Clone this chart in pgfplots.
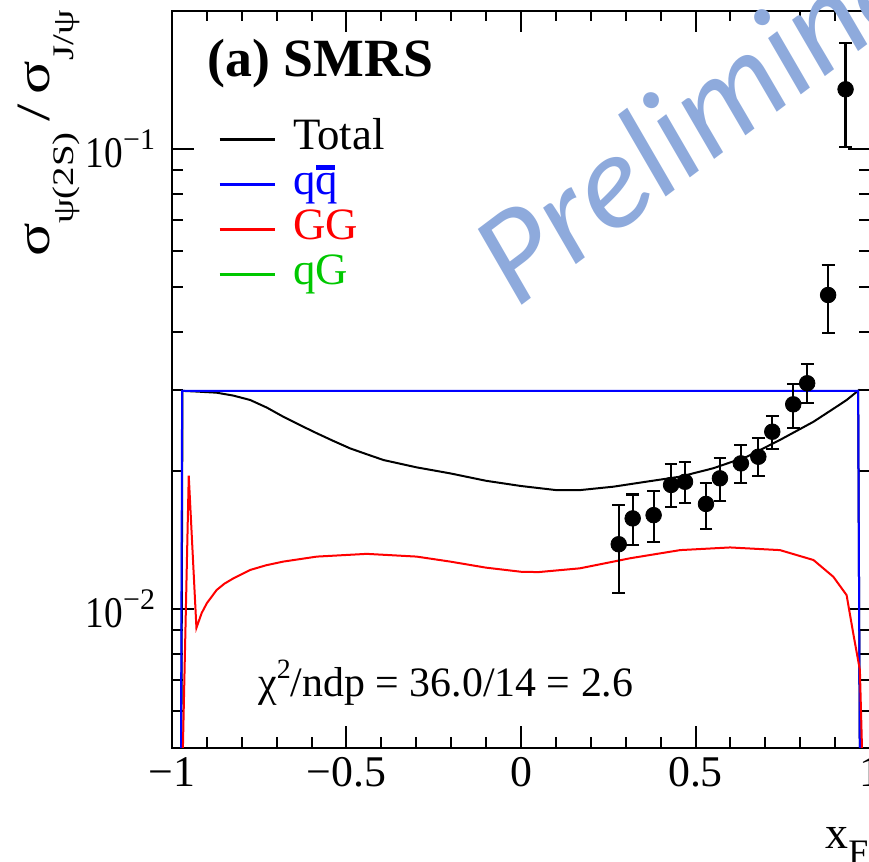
\documentclass[border=0pt]{standalone}
\usepackage{fontspec}
\setmainfont{Liberation Serif}
\newfontfamily\carlito{Carlito}
\usepackage{pgfplots}
\pgfplotsset{compat=1.18}
\definecolor{rootgreen}{RGB}{0,200,0}
\definecolor{prelim}{RGB}{142,170,220}
\begin{document}
\begin{tikzpicture}
\useasboundingbox (-86bp,-57.25bp) rectangle (348.5bp,373.75bp);
\begin{axis}[
  at={(0,0)}, anchor=south west,
  scale only axis, width=349bp, height=368.5bp,
  xmin=-1, xmax=1, ymin=0.005, ymax=0.2,
  ymode=log,
  unbounded coords=jump,
  axis line style={line width=1bp},
  tick style={draw=black, line width=1bp},
  tick align=inside, xtick pos=both, ytick pos=both,
  major tick length=11bp, minor tick length=5.5bp,
  xtick={-1,-0.5,0,0.5,1},
  xticklabels={−1,−0.5,0,0.5,1},
  minor x tick num=4,
  ytick={0.01,0.1},
  yticklabels={\scalebox{0.85}[1]{10}\raisebox{9bp}{\fontsize{15}{15}\selectfont −2},\scalebox{0.85}[1]{10}\raisebox{9bp}{\fontsize{15}{15}\selectfont −1}},
  minor ytick={0.006,0.007,0.008,0.009,0.02,0.03,0.04,0.05,0.06,0.07,0.08,0.09},
  ticklabel style={font=\fontsize{22}{22}\selectfont},
  xticklabel style={yshift=-1.5bp},
  yticklabel style={xshift=-5bp},
  legend style={at={(0.066,0.8555)}, anchor=north west, draw=none, fill=none,
    inner sep=0pt, outer sep=0pt, row sep=0pt, column sep=8.5bp,
    font=\fontsize{22.5}{22.5}\selectfont,
    nodes={inner sep=0pt, text height=16.4bp, text depth=6.1bp}},
  legend cell align=left,
  legend image code/.code={\draw[#1, line width=1.5bp] (0bp,0bp) -- (27.5bp,0bp);},
]
\addplot[black, line width=1bp] coordinates {
(-0.976,0.001) (-0.970,0.0298) (-0.93,0.0297) (-0.872,0.02953) (-0.824,0.0291)
(-0.776,0.02847) (-0.728,0.0274) (-0.681,0.02618) (-0.633,0.0251) (-0.585,0.0241)
(-0.538,0.0232) (-0.490,0.02235) (-0.442,0.0217) (-0.394,0.02108) (-0.299,0.02032)
(-0.203,0.01972) (-0.1,0.0190) (0,0.01851) (0.1,0.01814) (0.17,0.01814)
(0.265,0.01845) (0.36,0.01892) (0.456,0.0194) (0.551,0.02023) (0.647,0.02143)
(0.742,0.02331) (0.838,0.02553) (0.9,0.0274) (0.933,0.02847) (0.966,0.02982) (0.975,0.001)
};
\addlegendentry{Total}
\addplot[blue, line width=1bp] coordinates {
(-0.977,0.001) (-0.971,0.0298) (0.966,0.0298) (0.975,0.001)
};
\addlegendentry{\textcolor{blue}{q\rlap{\hspace{0.5bp}\raisebox{12.5bp}{\rule{9.5bp}{2.5bp}}}q}}
\addplot[red, line width=1bp] coordinates {
(-0.975,0.003) (-0.952,0.0195) (-0.930,0.0091) (-0.915,0.0098) (-0.90,0.0103)
(-0.872,0.0110) (-0.85,0.01135) (-0.824,0.01166) (-0.776,0.01216) (-0.73,0.01245)
(-0.681,0.01268) (-0.585,0.0130) (-0.442,0.01318)
(-0.299,0.0130) (-0.203,0.01268) (-0.1,0.01230) (0.0,0.01205) (0.05,0.01203)
(0.169,0.01226) (0.312,0.01289) (0.456,0.01343) (0.599,0.01361) (0.742,0.01343)
(0.838,0.01278) (0.895,0.01175) (0.933,0.01072) (0.952,0.00885) (0.971,0.00737) (0.985,0.003)
};
\addlegendentry{\textcolor{red}{GG}}
\addlegendimage{rootgreen, line width=1.5bp}
\addlegendentry{\textcolor{rootgreen}{qG}}
% x-axis tick marks (bottom and top) drawn through the axis
\addplot[black, line width=1bp, forget plot] coordinates {
(-0.5,0.005) (-0.5,0.005527) (-0.5,nan)
(0,0.005) (0,0.005527) (0,nan)
(0.5,0.005) (0.5,0.005527) (0.5,nan)
(-0.5,0.2) (-0.5,0.18095) (-0.5,nan)
(0,0.2) (0,0.18095) (0,nan)
(0.5,0.2) (0.5,0.18095)
};
\addplot[black, line width=1bp, forget plot] coordinates {
(-0.9,0.005) (-0.9,0.005257) (-0.9,nan)
(-0.8,0.005) (-0.8,0.005257) (-0.8,nan)
(-0.7,0.005) (-0.7,0.005257) (-0.7,nan)
(-0.6,0.005) (-0.6,0.005257) (-0.6,nan)
(-0.4,0.005) (-0.4,0.005257) (-0.4,nan)
(-0.3,0.005) (-0.3,0.005257) (-0.3,nan)
(-0.2,0.005) (-0.2,0.005257) (-0.2,nan)
(-0.1,0.005) (-0.1,0.005257) (-0.1,nan)
(0.1,0.005) (0.1,0.005257) (0.1,nan)
(0.2,0.005) (0.2,0.005257) (0.2,nan)
(0.3,0.005) (0.3,0.005257) (0.3,nan)
(0.4,0.005) (0.4,0.005257) (0.4,nan)
(0.6,0.005) (0.6,0.005257) (0.6,nan)
(0.7,0.005) (0.7,0.005257) (0.7,nan)
(0.8,0.005) (0.8,0.005257) (0.8,nan)
(0.9,0.005) (0.9,0.005257) (0.9,nan)
(-0.9,0.2) (-0.9,0.19024) (-0.9,nan)
(-0.8,0.2) (-0.8,0.19024) (-0.8,nan)
(-0.7,0.2) (-0.7,0.19024) (-0.7,nan)
(-0.6,0.2) (-0.6,0.19024) (-0.6,nan)
(-0.4,0.2) (-0.4,0.19024) (-0.4,nan)
(-0.3,0.2) (-0.3,0.19024) (-0.3,nan)
(-0.2,0.2) (-0.2,0.19024) (-0.2,nan)
(-0.1,0.2) (-0.1,0.19024) (-0.1,nan)
(0.1,0.2) (0.1,0.19024) (0.1,nan)
(0.2,0.2) (0.2,0.19024) (0.2,nan)
(0.3,0.2) (0.3,0.19024) (0.3,nan)
(0.4,0.2) (0.4,0.19024) (0.4,nan)
(0.6,0.2) (0.6,0.19024) (0.6,nan)
(0.7,0.2) (0.7,0.19024) (0.7,nan)
(0.8,0.2) (0.8,0.19024) (0.8,nan)
(0.9,0.2) (0.9,0.19024)
};
\addplot[black, only marks, mark=*, mark size=3.9bp, forget plot,
  error bars/.cd, y dir=both, y explicit,
  error bar style={line width=1.1bp, black},
  error mark options={rotate=90, mark size=3.2bp, line width=1.1bp, black}]
coordinates {
(0.28,0.01383) += (0,0.00300) -= (0,0.00298)
(0.32,0.01574) += (0,0.00201) -= (0,0.00197)
(0.38,0.01600) += (0,0.00205) -= (0,0.00200)
(0.43,0.01861) += (0,0.00205) -= (0,0.00197)
(0.47,0.01891) += (0,0.00199) -= (0,0.00193)
(0.53,0.01692) += (0,0.00190) -= (0,0.00202)
(0.57,0.01924) += (0,0.00202) -= (0,0.00204)
(0.63,0.02073) += (0,0.00200) -= (0,0.00196)
(0.68,0.02143) += (0,0.00207) -= (0,0.00197)
(0.72,0.02429) += (0,0.00203) -= (0,0.00201)
(0.78,0.02786) += (0,0.00294) -= (0,0.00315)
(0.82,0.03096) += (0,0.00312) -= (0,0.00287)
(0.88,0.04815) += (0,0.00780) -= (0,0.00834)
(0.93,0.1348) += (0,0.0350) -= (0,0.0338)
};
\end{axis}
\node[anchor=base west, inner sep=0pt, font=\fontsize{27}{27}\selectfont\bfseries] at (17.5bp,335.25bp) {(a) SMRS};
\node[anchor=base west, inner sep=0pt, font=\fontsize{21}{21}\selectfont] at (43bp,25.4bp) {χ\raisebox{9bp}{\fontsize{14}{14}\selectfont 2}/ndp = 36.0/14 = 2.6};
\node[rotate=90, anchor=base east, inner sep=0pt, font=\fontsize{24}{24}\selectfont] at (-61bp,368.75bp) {\scalebox{1.3}[1]{σ\raisebox{-12bp}{\fontsize{15}{15}\selectfont ψ(2S)}\hspace{4bp}/\hspace{4bp}σ\raisebox{-12bp}{\fontsize{15}{15}\selectfont J/ψ}}};
\node[anchor=base west, inner sep=0pt, font=\fontsize{23}{23}\selectfont] at (326.5bp,-50.25bp) {x\raisebox{-8bp}{\fontsize{18}{18}\selectfont F}};
\node[rotate=37, anchor=base west, inner sep=0pt, text=prelim, font=\fontsize{68}{68}\selectfont\carlito\itshape] at (172bp,219bp) {Preliminary};
\end{tikzpicture}
\end{document}
